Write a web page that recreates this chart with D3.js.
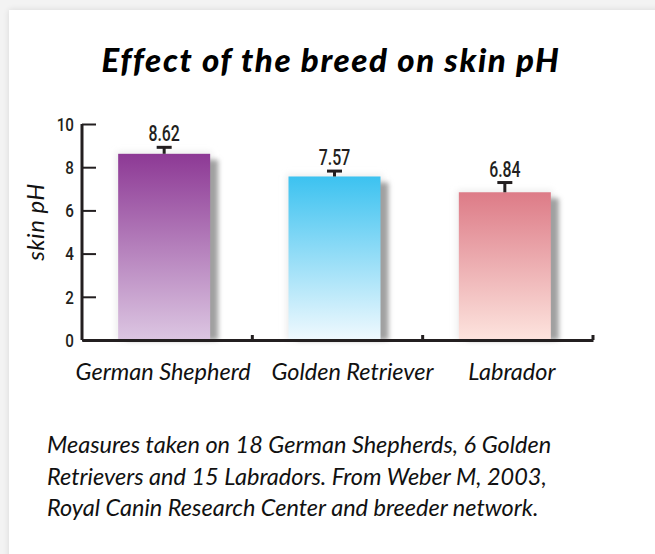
<!DOCTYPE html>
<html>
<head>
<meta charset="utf-8">
<script src="https://cdn.jsdelivr.net/npm/d3@7.9.0/dist/d3.min.js"></script>
<style>
  html, body { margin: 0; padding: 0; background: #f3f3f3; }
  svg { display: block; }
</style>
</head>
<body>
<svg id="chart"></svg>
<script>
const breeds = ["German Shepherd", "Golden Retriever", "Labrador"];
const skinPH = [8.62, 7.57, 6.84];
const errors = [0.3, 0.25, 0.45];
const yTicks = [0, 2, 4, 6, 8, 10];
const barColors = [
  { top: "#8d3995", bottom: "#dcc6e2" },
  { top: "#3cc2f0", bottom: "#f0f9fe" },
  { top: "#dd7b87", bottom: "#fde4de" }
];
const noteLines = [
  "Measures taken on 18 German Shepherds, 6 Golden",
  "Retrievers and 15 Labradors. From Weber M, 2003,",
  "Royal Canin Research Center and breeder network."
];

const W = 655, H = 554;
const plot = { left: 82, right: 593, top: 124, bottom: 340 };
const futura = "Lato, 'Open Sans', sans-serif";
const narrow = "Roboto, 'Liberation Sans', sans-serif";
// category labels sit a little off the band centres in the original
const labelNudge = [-4, 15, 4];

const svg = d3.select("#chart").attr("width", W).attr("height", H);
const defs = svg.append("defs");

// card shadow
const cardShadow = defs.append("filter").attr("id", "cardShadow")
  .attr("x", "-5%").attr("y", "-5%").attr("width", "110%").attr("height", "110%");
cardShadow.append("feGaussianBlur").attr("in", "SourceAlpha").attr("stdDeviation", 3);
cardShadow.append("feComponentTransfer").append("feFuncA").attr("type", "linear").attr("slope", 0.12);
const cm = cardShadow.append("feMerge");
cm.append("feMergeNode");
cm.append("feMergeNode").attr("in", "SourceGraphic");

svg.append("rect")
  .attr("x", 9).attr("y", 10).attr("width", W + 20).attr("height", H + 20)
  .attr("fill", "#fff").attr("filter", "url(#cardShadow)");

const blur = defs.append("filter").attr("id", "blur")
  .attr("x", "-30%").attr("y", "-30%").attr("width", "160%").attr("height", "160%");
blur.append("feGaussianBlur").attr("stdDeviation", 2.5);

const glow = defs.append("filter").attr("id", "glow")
  .attr("x", "-30%").attr("y", "-30%").attr("width", "160%").attr("height", "160%");
glow.append("feGaussianBlur").attr("stdDeviation", 3);

barColors.forEach((c, i) => {
  const g = defs.append("linearGradient").attr("id", "bar" + i)
    .attr("x1", 0).attr("y1", 0).attr("x2", 0).attr("y2", 1);
  g.append("stop").attr("offset", "0%").attr("stop-color", c.top);
  g.append("stop").attr("offset", "100%").attr("stop-color", c.bottom);
});

const x = d3.scaleBand().domain(breeds).range([plot.left, plot.right]);
const y = d3.scaleLinear().domain([0, 10]).range([plot.bottom, plot.top]);
const barW = 92;
const cx = (d) => x(d) + x.bandwidth() / 2 - 3;

// title
svg.append("text")
  .attr("x", 331).attr("y", 72)
  .attr("text-anchor", "middle")
  .style("font-family", futura).style("font-weight", 900).style("font-style", "italic")
  .style("font-size", "33px").style("letter-spacing", "1.6px").attr("fill", "#000")
  .text("Effect of the breed on skin pH");

const data = breeds.map((b, i) => ({ breed: b, value: skinPH[i], err: errors[i], i }));

// bar glow + shadow
svg.append("g").selectAll("rect").data(data).join("rect")
  .attr("x", (d) => cx(d.breed) - barW / 2 - 2)
  .attr("y", (d) => y(d.value) - 2)
  .attr("width", barW + 4)
  .attr("height", (d) => y(0) - y(d.value) + 2)
  .attr("fill", "#ececec").attr("filter", "url(#glow)");

svg.append("g").selectAll("rect").data(data).join("rect")
  .attr("x", (d) => cx(d.breed) - barW / 2 + 8)
  .attr("y", (d) => y(d.value) + 6)
  .attr("width", barW)
  .attr("height", (d) => y(0) - y(d.value) - 6)
  .attr("fill", "#a0a0a0").attr("filter", "url(#blur)");

svg.append("g").selectAll("rect").data(data).join("rect")
  .attr("x", (d) => cx(d.breed) - barW / 2)
  .attr("y", (d) => y(d.value))
  .attr("width", barW)
  .attr("height", (d) => y(0) - y(d.value))
  .attr("fill", (d) => `url(#bar${d.i})`);

// error bars
const eb = svg.append("g").attr("stroke", "#231f20").attr("stroke-width", 3);
eb.selectAll("line.stem").data(data).join("line").attr("class", "stem")
  .attr("x1", (d) => cx(d.breed)).attr("x2", (d) => cx(d.breed))
  .attr("y1", (d) => y(d.value)).attr("y2", (d) => y(d.value + d.err));
eb.selectAll("line.cap").data(data).join("line").attr("class", "cap")
  .attr("x1", (d) => cx(d.breed) - 7.5).attr("x2", (d) => cx(d.breed) + 7.5)
  .attr("y1", (d) => y(d.value + d.err)).attr("y2", (d) => y(d.value + d.err));

// value labels
svg.append("g").selectAll("text").data(data).join("text")
  .attr("transform", (d) => `translate(${cx(d.breed)},${y(d.value + d.err) - 6}) scale(0.72,1)`)
  .attr("text-anchor", "middle")
  .style("font-family", narrow).style("font-weight", 500).style("font-size", "22px")
  .attr("fill", "#231f20")
  .text((d) => d.value.toFixed(2));

// y axis
const yAxis = svg.append("g")
  .attr("transform", `translate(${plot.left},0)`)
  .call(d3.axisRight(y).tickValues(yTicks).tickSize(14).tickFormat(""));
yAxis.select(".domain").attr("stroke", "#231f20").attr("stroke-width", 3)
  .attr("d", `M0,${plot.top}V${plot.bottom}`);
yAxis.selectAll(".tick line").attr("stroke", "#231f20").attr("stroke-width", 2);

svg.append("g").selectAll("text").data(yTicks).join("text")
  .attr("transform", (d) => `translate(${plot.left - 8},${y(d)}) scale(0.8,1)`)
  .attr("dy", "0.36em")
  .attr("text-anchor", "end")
  .style("font-family", narrow).style("font-weight", 500).style("font-size", "19px")
  .attr("fill", "#231f20")
  .text((d) => d);

// x axis
const xAxis = svg.append("g")
  .attr("transform", `translate(0,${plot.bottom})`)
  .call(d3.axisTop(x).tickValues([]).tickSizeOuter(0));
xAxis.select(".domain").attr("stroke", "#231f20").attr("stroke-width", 3);
svg.append("g").selectAll("line").data(breeds).join("line")
  .attr("x1", (d) => x(d) + x.bandwidth()).attr("x2", (d) => x(d) + x.bandwidth())
  .attr("y1", plot.bottom).attr("y2", plot.bottom - 5)
  .attr("stroke", "#231f20").attr("stroke-width", 3);

svg.append("g").selectAll("text").data(breeds).join("text")
  .attr("x", (d, i) => x(d) + x.bandwidth() / 2 + labelNudge[i])
  .attr("y", 380)
  .attr("text-anchor", "middle")
  .style("font-family", futura).style("font-style", "italic").style("font-size", "23.5px")
  .attr("fill", "#111")
  .text((d) => d);

// y title
svg.append("text")
  .attr("transform", "translate(44,222) rotate(-90)")
  .attr("text-anchor", "middle")
  .style("font-family", futura).style("font-style", "italic").style("font-size", "24px")
  .style("letter-spacing", "0.5px")
  .attr("fill", "#111")
  .text("skin pH");

// footnote
svg.append("g").selectAll("text").data(noteLines).join("text")
  .attr("x", 47).attr("y", (d, i) => 453 + i * 31.5)
  .style("font-family", futura).style("font-style", "italic").style("font-size", "23.5px")
  .attr("fill", "#111")
  .text((d) => d);
</script>
</body>
</html>
